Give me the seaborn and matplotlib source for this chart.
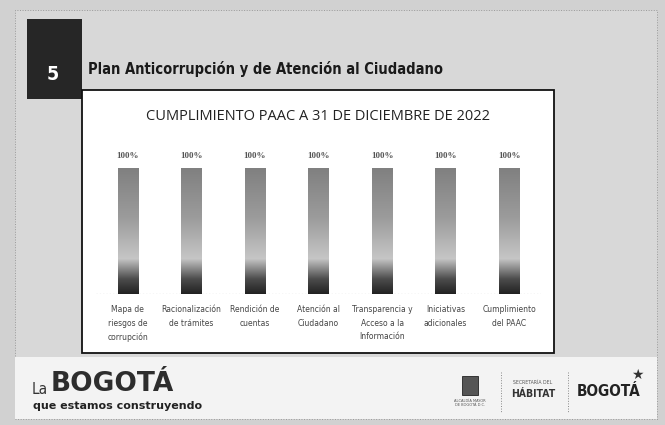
import numpy as np
import pandas as pd
import matplotlib
matplotlib.use("Agg")
import matplotlib.pyplot as plt
from matplotlib.patches import Rectangle
from matplotlib.colors import LinearSegmentedColormap
import seaborn as sns

# ---- data ----
categories = [
    "Mapa de\nriesgos de\ncorrupción",
    "Racionalización\nde trámites",
    "Rendición de\ncuentas",
    "Atención al\nCiudadano",
    "Transparencia y\nAcceso a la\nInformación",
    "Iniciativas\nadicionales",
    "Cumplimiento\ndel PAAC",
]
values = [100, 100, 100, 100, 100, 100, 100]
value_labels = ["100%", "100%", "100%", "100%", "100%", "100%", "100%"]

W, H = 665, 425
sns.set_theme(style="white")
plt.rcParams["font.family"] = ["DejaVu Sans"]
COND = dict(family=["DejaVu Sans"], fontstretch="condensed")

fig = plt.figure(figsize=(W / 100, H / 100), dpi=100)
fig.patch.set_facecolor("#d1d1d1")


def fx(x):
    return x / W


def fy(y):
    return 1 - y / H


def frect(x0, y0, x1, y1, **kw):
    r = Rectangle((fx(x0), fy(y1)), (x1 - x0) / W, (y1 - y0) / H,
                  transform=fig.transFigure, **kw)
    fig.add_artist(r)
    return r


# outer slide frame
frect(15, 10, 657, 419, facecolor="#d8d8d8", edgecolor="#9a9a9a", lw=0.7, ls=":", zorder=-3)
# footer band
frect(15, 357, 657, 419, facecolor="#f3f3f3", edgecolor="none", zorder=-2)
# dark number box
frect(27, 19, 82, 99, facecolor="#262626", edgecolor="none", zorder=-2)
fig.text(fx(53), fy(74), "5", color="white", fontsize=14, fontweight="bold",
         ha="center", va="center", **COND)
fig.text(fx(88), fy(69), "Plan Anticorrupción y de Atención al Ciudadano",
         color="#1a1a1a", fontsize=10.5, fontweight="bold", ha="left", va="center",
         **COND)
# white chart box
frect(82, 90, 554, 353, facecolor="white", edgecolor="#111111", lw=1.3, zorder=-1)
fig.text(fx(318), fy(116), "CUMPLIMIENTO PAAC A 31 DE DICIEMBRE DE 2022",
         color="#222222", fontsize=10.5, ha="center", va="center",
         family=["Open Sans", "DejaVu Sans"])

# ---- chart ----
ax = fig.add_axes([fx(96), fy(294), (541 - 96) / W, (294 - 150) / H])
ax.set_zorder(5)
ax.set_facecolor("none")
df = pd.DataFrame({"cat": categories, "val": values})
sns.barplot(data=df, x="cat", y="val", ax=ax, width=0.32, color="#999999",
            edgecolor="none", saturation=1)

cmap = LinearSegmentedColormap.from_list(
    "bar", [(0.0, "#222222"), (0.12, "#4d4d4d"), (0.28, "#c6c6c6"),
            (0.6, "#9c9c9c"), (1.0, "#808080")])
grad = np.linspace(0, 1, 256).reshape(-1, 1)
for p in ax.patches:
    x0, y0 = p.get_x(), p.get_y()
    w, h = p.get_width(), p.get_height()
    im = ax.imshow(grad, cmap=cmap, origin="lower", aspect="auto",
                   extent=[x0, x0 + w, y0, y0 + h], zorder=2)
    im.set_clip_path(p)
    p.set_facecolor("none")

for i, (v, lab) in enumerate(zip(values, value_labels)):
    ax.annotate(lab, (i, v), xytext=(0, 9), textcoords="offset points",
                ha="center", va="center", fontsize=6.5, fontweight="bold",
                color="#555555", family=["Liberation Serif", "DejaVu Serif"])

ax.axhline(0, color="#bbbbbb", lw=0.9, ls=":", zorder=1)
ax.set_xlim(-0.5, len(categories) - 0.5)
ax.set_ylim(0, 114.3)
ax.set_yticks([])
ax.set_xlabel("")
ax.set_ylabel("")
ax.tick_params(axis="x", length=0, pad=8)
for t in ax.get_xticklabels():
    t.set_fontsize(5.5)
    t.set_color("#444444")
    t.set_linespacing(1.65)
    t.set_va("top")
for s in ax.spines.values():
    s.set_visible(False)

# ---- footer logos ----
fig.text(fx(32), fy(389), "La", fontsize=11, color="#333333", ha="left", va="center",
         **COND)
fig.text(fx(51), fy(384), "BOGOTÁ", fontsize=19, color="#2d2d2d", ha="left", va="center",
         fontweight="bold")
fig.text(fx(33), fy(406), "que estamos construyendo", fontsize=8, color="#222222",
         ha="left", va="center", fontweight="bold")

# shield
frect(462, 376, 478, 395, facecolor="#555555", edgecolor="#222222", lw=0.6)
fig.text(fx(470), fy(403), "ALCALDÍA MAYOR\nDE BOGOTÁ D.C.", fontsize=2.6,
         color="#555555", ha="center", va="center")
fig.add_artist(plt.Line2D([fx(501), fx(501)], [fy(372), fy(412)],
                          transform=fig.transFigure, color="#888888", lw=0.7, ls=":"))
fig.text(fx(533), fy(383), "SECRETARÍA DEL", fontsize=3.3, color="#555555",
         ha="center", va="center")
fig.text(fx(533), fy(394), "HÁBITAT", fontsize=7.5, color="#333333", ha="center",
         va="center", fontweight="bold", **COND)
fig.add_artist(plt.Line2D([fx(568), fx(568)], [fy(372), fy(412)],
                          transform=fig.transFigure, color="#888888", lw=0.7, ls=":"))
fig.text(fx(577), fy(392), "BOGOTÁ", fontsize=11, color="#222222", ha="left",
         va="center", fontweight="bold", **COND)
fig.text(fx(637), fy(375), "★", fontsize=10, color="#333333", ha="center", va="center")

fig.savefig("out.png", dpi=100, facecolor=fig.get_facecolor())
